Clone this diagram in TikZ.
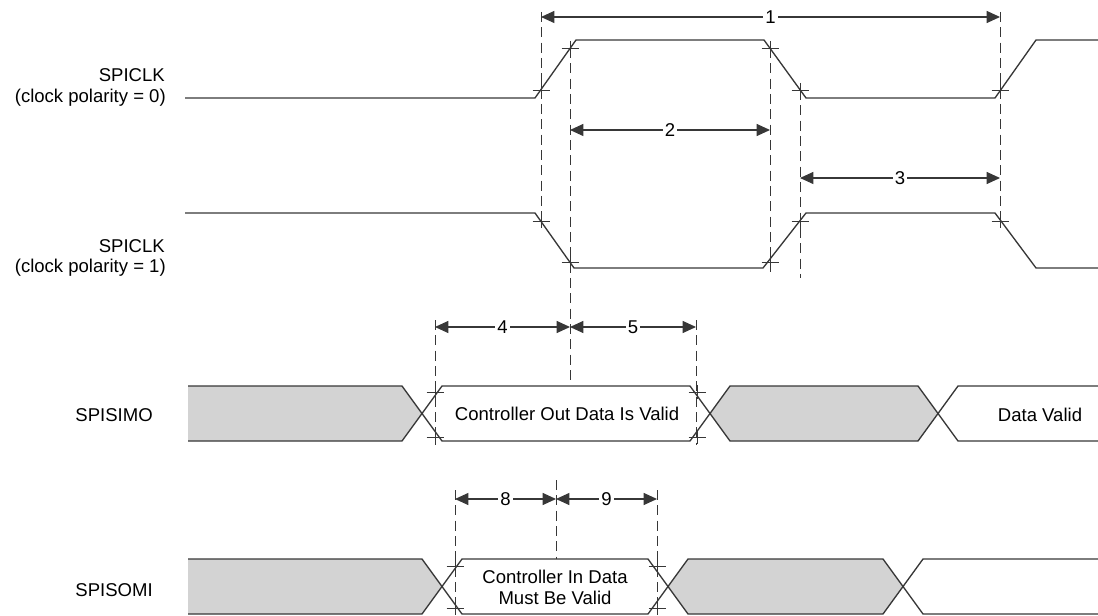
\documentclass[tikz,border=0pt]{standalone}
\usepackage{fontspec}
\setmainfont{Liberation Sans}
\usepackage{tikz}
\usetikzlibrary{arrows.meta}
\definecolor{lgrey}{RGB}{211,211,211}
\definecolor{dgrey}{RGB}{55,55,55}

\begin{document}
\begin{tikzpicture}[x=0.75pt,y=-0.75pt,>={Triangle[length=10pt,width=9pt]},font=\fontsize{13.9pt}{16pt}\selectfont]
      \tikzstyle{wave}=[draw=dgrey,line width=1pt]
      \tikzstyle{bus}=[wave,fill=lgrey]
      \tikzstyle{guide}=[draw=dgrey,line width=0.75pt,dash pattern=on 7.5pt off 4pt]
      \tikzstyle{cross}=[draw=dgrey,line width=0.6pt]
      \tikzstyle{dim}=[<->,draw=dgrey,fill=dgrey,line width=0.8pt]
      \tikzstyle{num}=[fill=white,inner sep=1.5pt]
      \tikzstyle{sig}=[anchor=east,inner sep=0pt]

      \useasboundingbox (0,0) rectangle (1098,616);

      \node[sig]	(C0) at (165,75)  {SPICLK};
      \node[sig]	(P0) at (166,98)  {(clock polarity = 0)};
      \node[sig]	(C1) at (165,246) {SPICLK};
      \node[sig]	(P1) at (166,268) {(clock polarity = 1)};
      \node[sig]	(MO) at (153,415) {SPISIMO};
      \node[sig]	(MI) at (153,590) {SPISOMI};

      % clocks
      \draw[wave] (185,98) -- (535,98) -- (576,40) -- (764,40) -- (806,98) -- (995,98) -- (1036,40) -- (1098,40);
      \draw[wave] (185,213) -- (535,213) -- (574,268) -- (763,268) -- (806,213) -- (995,213) -- (1036,268) -- (1098,268);

      % SPISIMO
      \fill[lgrey] (188,386) -- (402,386) -- (422,413.5) -- (402,441) -- (188,441) -- cycle;
      \draw[wave] (188,386) -- (402,386) -- (422,413.5) -- (402,441) -- (188,441);
      \draw[wave] (422,413.5) -- (442,386) -- (690,386) -- (710,413.5) -- (690,441) -- (442,441) -- cycle;
      \draw[bus]  (710,413.5) -- (730,386) -- (918,386) -- (938,413.5) -- (918,441) -- (730,441) -- cycle;
      \draw[wave] (1098,386) -- (958,386) -- (938,413.5) -- (958,441) -- (1098,441);
      \node		(DO) at (567,414)  {Controller Out Data Is Valid};
      \node		(DV) at (1040,415) {Data Valid};

      % SPISOMI
      \fill[lgrey] (188,559) -- (422,559) -- (442,586.5) -- (422,614) -- (188,614) -- cycle;
      \draw[wave] (188,559) -- (422,559) -- (442,586.5) -- (422,614) -- (188,614);
      \draw[wave] (442,586.5) -- (462,559) -- (648,559) -- (668,586.5) -- (648,614) -- (462,614) -- cycle;
      \draw[bus]  (668,586.5) -- (688,559) -- (883,559) -- (903,586.5) -- (883,614) -- (688,614) -- cycle;
      \draw[wave] (1098,559) -- (923,559) -- (903,586.5) -- (923,614) -- (1098,614);
      \node[align=center] (DI) at (555,587.5) {Controller In Data\\Must Be Valid};

      % guides
      \foreach \n/\x/\ya/\yb in {1/541/12/228, 2/570/48/385, 3/770/48/272, 4/800/90/278, 5/1000/12/226,
                                 6/435/320/445, 7/696/320/445, 8/455/490/615, 9/657/490/615, 10/556/480/559}
      {
	\coordinate (ga\n) at (\x,\ya);
	\coordinate (gb\n) at (\x,\yb);
	\draw[guide] (ga\n) -- (gb\n);
      }

      % crossing marks
      \foreach \x/\y in {541/90, 570/48, 770/48, 800/90, 1000/90,
                         541/221, 570/262, 770/262, 800/221, 1000/221,
                         435/392, 435/437, 697/392, 697/437,
                         455/566, 455/608, 657/566, 657/608}
	\draw[cross] ({\x-8.5},\y) -- ({\x+8.5},\y) (\x,{\y-7}) -- (\x,{\y+7});

      % timing parameters
      \foreach \n/\xa/\xb/\y in {1/541/1000/17, 2/570/770/130, 3/800/1000/178,
                                 4/435/570/327, 5/570/696/327, 8/455/556/499, 9/556/657/499}
      {
	\coordinate (la\n) at (\xa,\y);
	\coordinate (ra\n) at (\xb,\y);
	\draw[dim] (la\n) -- node[num] {\n} (ra\n);
      }

  \end{tikzpicture}
\end{document}
